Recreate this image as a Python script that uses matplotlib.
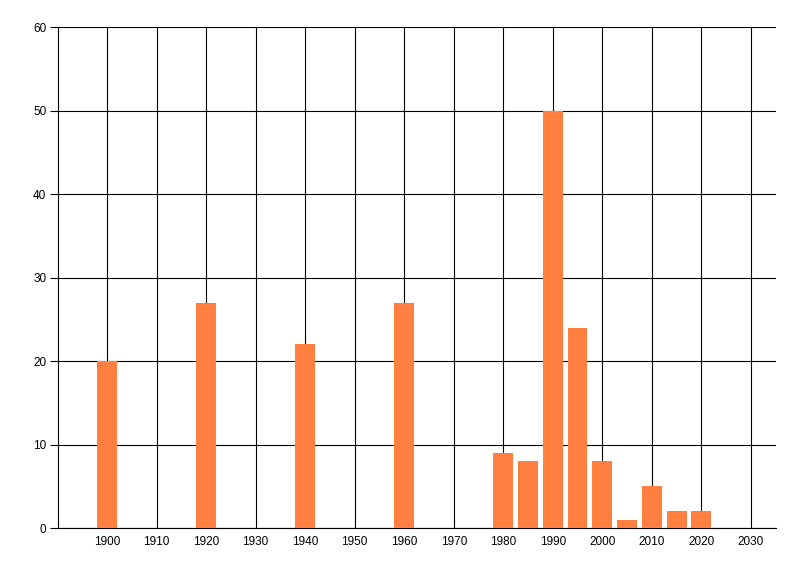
import matplotlib
matplotlib.use("Agg")
import matplotlib.pyplot as plt

years = [1900, 1920, 1940, 1960, 1980, 1985, 1990, 1995, 2000, 2005, 2010, 2015, 2020]
counts = [20, 27, 22, 27, 9, 8, 50, 24, 8, 1, 5, 2, 2]
x_ticks = list(range(1900, 2031, 10))
y_ticks = list(range(0, 61, 10))

plt.rcParams["font.family"] = ["Liberation Sans", "DejaVu Sans"]

fig = plt.figure(figsize=(8, 5.76), dpi=100)
ax = fig.add_axes([0.0719, 0.0833, 0.8977, 0.8697])

# grid first, bars on top
ax.set_axisbelow(True)
ax.grid(True, color="black", linewidth=0.8)
ax.bar(years, counts, width=4, color="#FF7F40", zorder=3)

ax.set_xlim(1890, 2035)
ax.set_ylim(0, 60)
ax.set_xticks(x_ticks)
ax.set_yticks(y_ticks)
ax.tick_params(axis="x", length=0, pad=6, labelsize=8.5)
ax.tick_params(axis="y", length=6, width=0.8, pad=2, labelsize=8.5)

for side in ["top", "right"]:
    ax.spines[side].set_visible(False)
for side in ["left", "bottom"]:
    ax.spines[side].set_linewidth(0.8)
    ax.spines[side].set_color("black")

fig.savefig("out.png", dpi=100)
